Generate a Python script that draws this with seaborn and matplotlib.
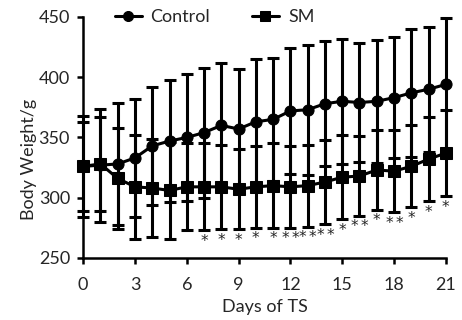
import seaborn as sns
import matplotlib.pyplot as plt
import pandas as pd
import numpy as np

days = list(range(22))
control_mean = [326, 327, 328, 333, 343, 347, 350, 354, 360, 357, 363, 365,
                372, 373, 378, 380, 379, 380, 383, 387, 390, 394]
control_sd = [42, 47, 51, 49, 49, 51, 53, 54, 52, 50, 52, 51,
              52, 54, 52, 52, 49, 51, 50, 53, 52, 55]
sm_mean = [326, 328, 316, 309, 308, 306, 309, 309, 309, 307, 309, 310,
           309, 310, 313, 317, 318, 323, 322, 326, 332, 337]
sm_sd = [37, 39, 42, 43, 41, 40, 36, 36, 35, 33, 34, 35,
         34, 34, 35, 35, 33, 33, 34, 34, 35, 36]
stars = {7: 1, 8: 1, 9: 1, 10: 1, 11: 1, 12: 2, 13: 2, 14: 2, 15: 1,
         16: 2, 17: 1, 18: 2, 19: 1, 20: 1, 21: 1}

sns.set_style("ticks")
plt.rcParams['font.family'] = ['Lato', 'DejaVu Sans']

df = pd.DataFrame({
    "day": days * 2,
    "weight": control_mean + sm_mean,
    "group": ["Control"] * 22 + ["SM"] * 22,
})

fig = plt.figure(figsize=(4.62, 3.2), dpi=100)
ax = fig.add_axes([0.18, 0.194, 0.785, 0.753])

sns.lineplot(data=df, x="day", y="weight", hue="group", style="group",
             markers={"Control": "o", "SM": "s"}, dashes=False,
             palette={"Control": "black", "SM": "black"},
             markersize=8, markeredgecolor="black", linewidth=2.2,
             ax=ax, clip_on=False, zorder=4)

ax.errorbar(days, control_mean, yerr=control_sd, fmt="none", ecolor="black",
            elinewidth=2.2, capsize=4.3, capthick=2.2, clip_on=False, zorder=3)
ax.errorbar(days, sm_mean, yerr=sm_sd, fmt="none", ecolor="black",
            elinewidth=2.2, capsize=4.3, capthick=2.2, clip_on=False, zorder=3)

# significance marks under the SM bars
for d, n in stars.items():
    low = sm_mean[d] - sm_sd[d]
    for i in range(n):
        off = (i - (n - 1) / 2) * 0.58
        ax.text(d + off, low - 3, "*", ha="center", va="top",
                fontsize=11, family="DejaVu Sans")

ax.set_xlim(0, 21)
ax.set_ylim(250, 450)
ax.set_xticks(range(0, 22, 3))
ax.set_yticks(range(250, 451, 50))
ax.set_xlabel("Days of TS", fontsize=13)
ax.set_ylabel("Body Weight/g", fontsize=13)
ax.yaxis.set_label_coords(-0.128, 0.41)
ax.xaxis.set_label_coords(0.5, -0.172)
ax.tick_params(labelsize=13, width=1.8, length=4.5, color="black")
ax.tick_params(axis="x", pad=9)
ax.tick_params(axis="y", pad=5)
for s in ["left", "bottom"]:
    ax.spines[s].set_linewidth(1.8)
    ax.spines[s].set_color("black")
sns.despine(ax=ax)

ax.legend(loc="center", bbox_to_anchor=(0.362, 1.0), ncol=2, frameon=False,
          fontsize=13, handlelength=1.5, columnspacing=2.3,
          handletextpad=0.5, markerscale=0.9)

fig.savefig("out.png", dpi=100)
